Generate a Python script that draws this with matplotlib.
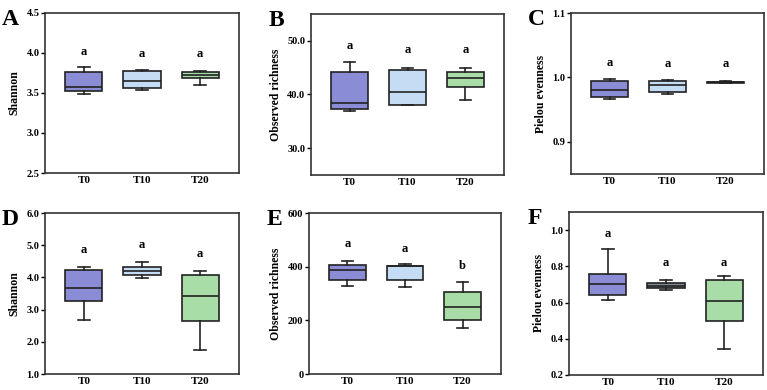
import matplotlib
matplotlib.use("Agg")
import matplotlib.pyplot as plt
from matplotlib.ticker import FormatStrFormatter

plt.rcParams['font.family'] = ['Liberation Serif', 'DejaVu Serif']
plt.rcParams['font.weight'] = 'bold'

groups = ["T0", "T10", "T20"]

# five-number summaries per group: whislo, q1, med, q3, whishi
a_stats = [[3.49, 3.52, 3.58, 3.76, 3.82], [3.54, 3.56, 3.65, 3.775, 3.79], [3.60, 3.69, 3.73, 3.765, 3.78]]
b_stats = [[37.0, 37.3, 38.4, 44.25, 46.1], [38.1, 38.1, 40.5, 44.5, 45.0], [39.0, 41.4, 43.1, 44.25, 45.0]]
c_stats = [[0.967, 0.970, 0.981, 0.9938, 0.9974], [0.974, 0.9766, 0.9875, 0.994, 0.9964], [0.9913, 0.9915, 0.9925, 0.9935, 0.9937]]
d_stats = [[2.69, 3.28, 3.66, 4.24, 4.31], [3.97, 4.07, 4.19, 4.33, 4.47], [1.75, 2.64, 3.41, 4.07, 4.21]]
e_stats = [[329, 350, 389, 406, 423], [323, 350, 401, 404, 409], [170, 200, 248, 304, 342]]
f_stats = [[0.615, 0.639, 0.702, 0.759, 0.898], [0.670, 0.683, 0.694, 0.709, 0.726], [0.344, 0.496, 0.611, 0.722, 0.744]]

a_letters = ["a", "a", "a"]; a_ly = [3.94, 3.91, 3.91]
b_letters = ["a", "a", "a"]; b_ly = [48.0, 47.1, 47.1]
c_letters = ["a", "a", "a"]; c_ly = [1.013, 1.011, 1.011]
d_letters = ["a", "a", "a"]; d_ly = [4.65, 4.82, 4.55]
e_letters = ["a", "a", "b"]; e_ly = [462, 444, 382]
f_letters = ["a", "a", "a"]; f_ly = [0.948, 0.787, 0.787]

colors = ["#8a8dd6", "#c4dcf4", "#a8dda8"]
colors_f = ["#8a8dd6", "#808b96", "#a8dda8"]

panels = [
    ("A", [0.0587, 0.5564, 0.2529, 0.4103], a_stats, a_letters, a_ly, "Shannon", (2.5, 4.5), [2.5, 3.0, 3.5, 4.0, 4.5], "%.1f", colors),
    ("B", [0.4055, 0.5513, 0.2516, 0.4128], b_stats, b_letters, b_ly, "Observed richness", (25, 55), [30, 40, 50], "%.1f", colors),
    ("C", [0.7445, 0.5538, 0.2516, 0.4128], c_stats, c_letters, c_ly, "Pielou evenness", (0.85, 1.1), [0.9, 1.0, 1.1], "%.1f", colors),
    ("D", [0.0587, 0.0410, 0.2529, 0.4128], d_stats, d_letters, d_ly, "Shannon", (1.0, 6.0), [1, 2, 3, 4, 5, 6], "%.1f", colors),
    ("E", [0.4029, 0.0410, 0.2503, 0.4128], e_stats, e_letters, e_ly, "Observed richness", (0, 600), [0, 200, 400, 600], "%d", colors),
    ("F", [0.7419, 0.0385, 0.2529, 0.4179], f_stats, f_letters, f_ly, "Pielou evenness", (0.2, 1.1), [0.2, 0.4, 0.6, 0.8, 1.0], "%.1f", colors_f),
]

fig = plt.figure(figsize=(7.67, 3.9), dpi=100)

for tag, pos, stats, letters, ly, ylabel, ylim, yticks, fmt, cols in panels:
    ax = fig.add_axes(pos)
    bstats = []
    for g, s in zip(groups, stats):
        bstats.append(dict(label=g, whislo=s[0], q1=s[1], med=s[2], q3=s[3], whishi=s[4], fliers=[]))
    bp = ax.bxp(bstats, positions=[1, 2, 3], widths=0.64, capwidths=0.2, patch_artist=True,
                boxprops=dict(linewidth=1.2, edgecolor="#222222"),
                medianprops=dict(color="#222222", linewidth=1.2),
                whiskerprops=dict(color="#222222", linewidth=1.2),
                capprops=dict(color="#222222", linewidth=1.2))
    for patch, c in zip(bp["boxes"], cols):
        patch.set_facecolor(c)
    for x, (t, y) in enumerate(zip(letters, ly), start=1):
        ax.text(x, y, t, ha="center", va="bottom", fontsize=9, fontweight="bold")
    ax.set_xlim(0.333, 3.667)
    ax.set_ylim(*ylim)
    ax.set_yticks(yticks)
    ax.yaxis.set_major_formatter(FormatStrFormatter(fmt))
    ax.set_ylabel(ylabel, fontsize=8.5, fontweight="bold", labelpad=4)
    ax.tick_params(axis="x", length=0, labelsize=8, pad=2.5)
    ax.tick_params(axis="y", length=3, width=1, labelsize=7.5, pad=1, direction="out")
    for sp in ax.spines.values():
        sp.set_linewidth(1.2)
        sp.set_color("#333333")
    fig.text(pos[0] - 0.045, pos[1] + pos[3] + 0.01, tag, fontsize=17, fontweight="bold",
             ha="center", va="top")

fig.savefig("out.png", dpi=100)
